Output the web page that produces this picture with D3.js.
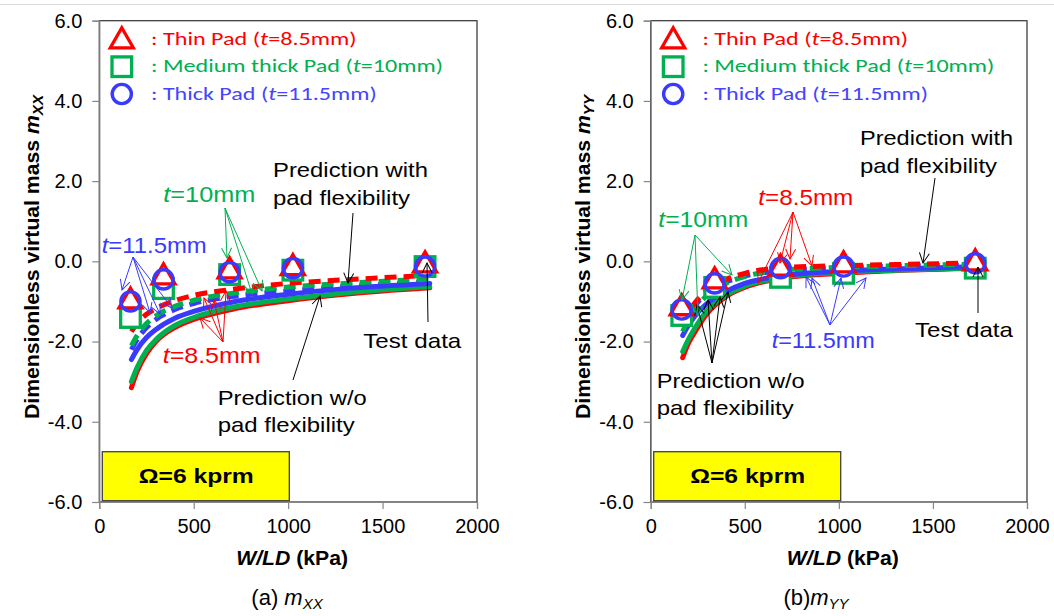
<!DOCTYPE html>
<html>
<head>
<meta charset="UTF-8">
<title>Dimensionless virtual mass</title>
<style>
body { margin: 0; background: #fff; }
svg { display: block; }
</style>
</head>
<body>
<script src="https://cdnjs.cloudflare.com/ajax/libs/d3/7.8.5/d3.min.js"></script>
<script>
// ---- data ----
var padNames = ['Thin Pad', 'Medium thick Pad', 'Thick Pad'];
var padThickness = ['8.5mm', '10mm', '11.5mm'];
var xTicks = [0, 500, 1000, 1500, 2000];
var yTicks = [-6, -4, -2, 0, 2, 4, 6];

// test data (W/LD in kPa)
var testWLD = [165, 340, 690, 1025, 1725];
var mxxThin = [-0.95, -0.35, -0.2, -0.12, -0.05];
var mxxMedium = [-1.4, -0.68, -0.33, -0.22, -0.13];
var mxxThick = [-1.0, -0.45, -0.27, -0.17, -0.13];
var myyThin = [-1.12, -0.45, -0.13, -0.05, 0.0];
var myyMedium = [-1.35, -0.65, -0.4, -0.3, -0.17];
var myyThick = [-1.2, -0.55, -0.17, -0.13, -0.05];

// predictions
var predWLD = [170, 200, 250, 300, 400, 500, 700, 1000, 1300, 1750];
// m_XX, w/o pad flexibility (solid)
var mxxRigidThin = [-3.15, -2.75, -2.3, -2.0, -1.65, -1.45, -1.2, -0.98, -0.82, -0.66];
var mxxRigidMedium = [-3.0, -2.65, -2.22, -1.95, -1.6, -1.4, -1.15, -0.94, -0.79, -0.63];
var mxxRigidThick = [-2.45, -2.2, -1.9, -1.7, -1.42, -1.25, -1.02, -0.82, -0.68, -0.55];
// m_XX, with pad flexibility (dashed)
var mxxFlexThin = [-1.75, -1.55, -1.32, -1.18, -0.98, -0.85, -0.7, -0.55, -0.46, -0.35];
var mxxFlexMedium = [-2.1, -1.85, -1.55, -1.36, -1.12, -0.97, -0.8, -0.64, -0.55, -0.44];
var mxxFlexThick = [-2.2, -1.95, -1.65, -1.45, -1.2, -1.05, -0.88, -0.74, -0.63, -0.52];
// m_YY, w/o pad flexibility (solid)
var myyRigidThin = [-2.4, -2.05, -1.65, -1.3, -0.88, -0.65, -0.42, -0.3, -0.23, -0.17];
var myyRigidMedium = [-2.25, -1.95, -1.55, -1.22, -0.84, -0.62, -0.4, -0.28, -0.22, -0.16];
var myyRigidThick = [-1.85, -1.6, -1.28, -1.05, -0.75, -0.55, -0.36, -0.25, -0.19, -0.13];
// m_YY, with pad flexibility (dashed)
var myyFlexThin = [-1.55, -1.28, -0.95, -0.72, -0.45, -0.3, -0.16, -0.11, -0.08, -0.04];
var myyFlexMedium = [-1.75, -1.45, -1.1, -0.85, -0.55, -0.38, -0.22, -0.15, -0.11, -0.07];
var myyFlexThick = [-1.6, -1.35, -1.02, -0.8, -0.52, -0.37, -0.23, -0.16, -0.12, -0.09];

var red = '#ff0000', green = '#00b050', blue = '#3a3aff';
var padColors = [red, green, blue];
var sans = '"Liberation Sans", Arial, sans-serif';
var narrow = '"Liberation Sans Narrow", "Arial Narrow", "Liberation Sans", Arial, sans-serif';
var legendFont = 'Carlito, Calibri, "Open Sans", sans-serif';

var svg = d3.select('body').append('svg')
	.attr('width', 1054)
	.attr('height', 616);

// thin grey frame line at the top
svg.append('line')
	.attr('x1', 0).attr('x2', 1054)
	.attr('y1', 4.5).attr('y2', 4.5)
	.attr('stroke', '#d9d9d9');

var defs = svg.append('defs');
[['black', '#000'], ['red', red], ['green', green], ['blue', blue]].forEach(function(c) {
	defs.append('marker')
		.attr('id', 'ah-' + c[0])
		.attr('viewBox', '0 0 12 12')
		.attr('refX', 11).attr('refY', 6)
		.attr('markerWidth', 12).attr('markerHeight', 12)
		.attr('markerUnits', 'userSpaceOnUse')
		.attr('orient', 'auto')
		.append('path')
		.attr('d', 'M1,1 L11,6 L1,11')
		.attr('fill', 'none')
		.attr('stroke', c[1])
		.attr('stroke-width', 1);
});

function drawMarker(g, kind, cx, cy, color) {
	if (kind === 0) {
		g.append('path')
			.attr('d', 'M' + cx + ',' + (cy - 11.5) + 'L' + (cx + 11.5) + ',' + (cy + 8.5) + 'L' + (cx - 11.5) + ',' + (cy + 8.5) + 'Z')
			.attr('fill', '#fff').attr('stroke', color).attr('stroke-width', 3.3)
			.attr('stroke-linejoin', 'miter');
	} else if (kind === 1) {
		g.append('rect')
			.attr('x', cx - 9.8).attr('y', cy - 9.8)
			.attr('width', 19.6).attr('height', 19.6)
			.attr('fill', '#fff').attr('stroke', color).attr('stroke-width', 3.3);
	} else {
		g.append('circle')
			.attr('cx', cx).attr('cy', cy).attr('r', 9.6)
			.attr('fill', 'none').attr('stroke', color).attr('stroke-width', 3.4);
	}
}

function addText(g, t) {
	var el = g.append('text')
		.attr('x', t.x).attr('y', t.y)
		.attr('font-family', sans)
		.attr('font-size', t.size || 21)
		.attr('fill', t.color || '#000')
		.attr('textLength', t.len)
		.attr('lengthAdjust', 'spacingAndGlyphs');
	if (t.italicT) {
		el.append('tspan').attr('font-style', 'italic').text('t');
		el.append('tspan').text('=' + t.italicT);
	} else {
		el.text(t.text);
	}
}

function drawPanel(p) {
	var x = d3.scaleLinear().domain([0, 2000]).range([p.left, p.right]);
	var y = d3.scaleLinear().domain([-6, 6]).range([502, 20.7]);
	var g = svg.append('g');

	g.append('rect')
		.attr('x', p.left).attr('y', y(6))
		.attr('width', p.right - p.left).attr('height', y(-6) - y(6))
		.attr('fill', 'none').attr('stroke', '#404040').attr('stroke-width', 1.3);

	var ax = g.append('g')
		.attr('transform', 'translate(0,' + y(-6) + ')')
		.call(d3.axisBottom(x).tickValues(xTicks).tickSize(7).tickPadding(10).tickFormat(d3.format('d')));
	var ay = g.append('g')
		.attr('transform', 'translate(' + p.left + ',0)')
		.call(d3.axisLeft(y).tickValues(yTicks).tickSize(7).tickPadding(10)
			.tickFormat(function(d) { return d.toFixed(1); }));
	[ax, ay].forEach(function(a) {
		a.selectAll('path, line').attr('stroke', '#868686').attr('stroke-width', 1.2);
		a.selectAll('text').attr('font-family', sans).attr('font-size', 20).attr('fill', '#000');
	});

	// y title
	var yt = g.append('text')
		.attr('transform', 'translate(' + p.yTitleX + ',257) rotate(-90)')
		.attr('text-anchor', 'middle')
		.attr('font-family', narrow)
		.attr('font-weight', 'bold')
		.attr('font-size', 21)
		.attr('textLength', 324)
		.attr('lengthAdjust', 'spacingAndGlyphs');
	yt.append('tspan').text('Dimensionless virtual mass ');
	yt.append('tspan').attr('font-style', 'italic').text('m');
	yt.append('tspan').attr('font-style', 'italic').attr('font-size', 15).attr('dy', 4).text(p.sub);

	// x title
	var xt = g.append('text')
		.attr('x', (p.left + p.right) / 2 + 4).attr('y', 565)
		.attr('text-anchor', 'middle')
		.attr('font-family', narrow)
		.attr('font-weight', 'bold')
		.attr('font-size', 20)
		.attr('textLength', 112)
		.attr('lengthAdjust', 'spacingAndGlyphs');
	xt.append('tspan').attr('font-style', 'italic').text('W/LD');
	xt.append('tspan').text(' (kPa)');

	// caption
	var cap = g.append('text')
		.attr('x', p.capX).attr('y', 605)
		.attr('text-anchor', 'middle')
		.attr('font-family', sans)
		.attr('font-size', 22);
	cap.append('tspan').text(p.capLabel);
	cap.append('tspan').attr('font-style', 'italic').text('m');
	cap.append('tspan').attr('font-style', 'italic').attr('font-size', 15).attr('dy', 4).text(p.sub);

	// yellow speed box
	g.append('rect')
		.attr('x', p.left + 3).attr('y', 451.7)
		.attr('width', 187).attr('height', 49)
		.attr('fill', '#ffff00').attr('stroke', '#404040').attr('stroke-width', 1.3);
	g.append('text')
		.attr('x', p.left + 97).attr('y', 483)
		.attr('text-anchor', 'middle')
		.attr('font-family', narrow)
		.attr('font-weight', 'bold')
		.attr('font-size', 21)
		.attr('textLength', 115)
		.attr('lengthAdjust', 'spacingAndGlyphs')
		.text('\u03a9=6 kprm');

	// prediction curves
	var line = d3.line()
		.x(function(d, i) { return x(predWLD[i]); })
		.y(function(d) { return y(d); })
		.curve(d3.curveMonotoneX);
	p.rigid.forEach(function(s, k) {
		g.append('path').datum(s)
			.attr('d', line)
			.attr('fill', 'none')
			.attr('stroke', padColors[k])
			.attr('stroke-width', 5)
			.attr('stroke-linecap', 'round');
	});
	[2, 1, 0].forEach(function(k) {
		g.append('path').datum(p.flex[k])
			.attr('d', line)
			.attr('fill', 'none')
			.attr('stroke', padColors[k])
			.attr('stroke-width', 5)
			.attr('stroke-dasharray', '12,7');
	});

	// test data markers: squares, triangles, circles
	[1, 0, 2].forEach(function(k) {
		p.test[k].forEach(function(v, i) {
			drawMarker(g, k, x(testWLD[i]), y(v), padColors[k]);
		});
	});

	// legend
	var lgY = [39.3, 66.7, 94];
	var lgLen = [205.7, 292, 225.7];
	padNames.forEach(function(name, k) {
		drawMarker(g, k, p.left + 22.5, lgY[k], padColors[k]);
		var t = g.append('text')
			.attr('x', p.left + 51.7).attr('y', lgY[k] + 5.5)
			.attr('font-family', legendFont)
			.attr('font-size', 19)
			.attr('fill', k === 2 ? '#4545ff' : padColors[k])
			.attr('textLength', lgLen[k])
			.attr('lengthAdjust', 'spacingAndGlyphs');
		t.append('tspan').text(': ' + name + ' (');
		t.append('tspan').attr('font-style', 'italic').text('t');
		t.append('tspan').text('=' + padThickness[k] + ')');
	});

	// annotation arrows and labels
	p.arrows.forEach(function(a) {
		a.to.forEach(function(e) {
			g.append('line')
				.attr('x1', a.from[0]).attr('y1', a.from[1])
				.attr('x2', e[0]).attr('y2', e[1])
				.attr('stroke', a.color)
				.attr('stroke-width', 1)
				.attr('marker-end', 'url(#ah-' + a.name + ')');
		});
	});
	p.labels.forEach(function(t) { addText(g, t); });
}

drawPanel({
	left: 99.3, right: 477, yTitleX: 39, sub: 'XX', capX: 287, capLabel: '(a) ',
	test: [mxxThin, mxxMedium, mxxThick],
	rigid: [mxxRigidThin, mxxRigidMedium, mxxRigidThick],
	flex: [mxxFlexThin, mxxFlexMedium, mxxFlexThick],
	arrows: [
		{name: 'black', color: '#000', from: [353, 213], to: [[348, 283]]},
		{name: 'black', color: '#000', from: [428, 322], to: [[427, 263]]},
		{name: 'black', color: '#000', from: [293, 380], to: [[320, 296]]},
		{name: 'green', color: green, from: [225, 208], to: [[227, 258], [252, 294], [262, 291]]},
		{name: 'blue', color: blue, from: [133, 257], to: [[122, 290], [150, 313], [160, 314], [172, 308]]},
		{name: 'red', color: red, from: [223, 342], to: [[200, 318], [204, 298], [214, 300], [226, 291]]}
	],
	labels: [
		{x: 273, y: 176.7, len: 155, text: 'Prediction with'},
		{x: 273, y: 205, len: 137, text: 'pad flexibility'},
		{x: 163.3, y: 201.7, len: 92, italicT: '10mm', color: green, size: 22},
		{x: 101.7, y: 253.3, len: 105, italicT: '11.5mm', color: blue, size: 22},
		{x: 162.7, y: 363.3, len: 98, italicT: '8.5mm', color: red, size: 22},
		{x: 363.3, y: 348.3, len: 98, text: 'Test data'},
		{x: 217.7, y: 405, len: 149, text: 'Prediction w/o'},
		{x: 217.7, y: 431.7, len: 137, text: 'pad flexibility'}
	]
});

drawPanel({
	left: 650.7, right: 1027, yTitleX: 590.4, sub: 'YY', capX: 816, capLabel: '(b)',
	test: [myyThin, myyMedium, myyThick],
	rigid: [myyRigidThin, myyRigidMedium, myyRigidThick],
	flex: [myyFlexThin, myyFlexMedium, myyFlexThick],
	arrows: [
		{name: 'black', color: '#000', from: [935, 178], to: [[923, 263]]},
		{name: 'black', color: '#000', from: [978, 313], to: [[978, 267]]},
		{name: 'black', color: '#000', from: [712, 363], to: [[697, 305], [708, 300], [720, 297], [728, 292]]},
		{name: 'red', color: red, from: [793, 212], to: [[758, 283], [780, 263], [790, 259], [812, 266]]},
		{name: 'green', color: green, from: [695, 235], to: [[682, 300], [698, 316], [732, 275]]},
		{name: 'blue', color: blue, from: [830, 325], to: [[806, 277], [812, 278], [841, 278], [866, 278]]}
	],
	labels: [
		{x: 860, y: 145, len: 153, text: 'Prediction with'},
		{x: 860, y: 173.3, len: 137, text: 'pad flexibility'},
		{x: 758.3, y: 205, len: 95, italicT: '8.5mm', color: red, size: 22},
		{x: 658.3, y: 226.7, len: 90, italicT: '10mm', color: green, size: 22},
		{x: 771.7, y: 348.3, len: 103, italicT: '11.5mm', color: blue, size: 22},
		{x: 915, y: 336.7, len: 98, text: 'Test data'},
		{x: 656.7, y: 388.3, len: 148, text: 'Prediction w/o'},
		{x: 656.7, y: 415, len: 137, text: 'pad flexibility'}
	]
});
</script>
</body>
</html>
